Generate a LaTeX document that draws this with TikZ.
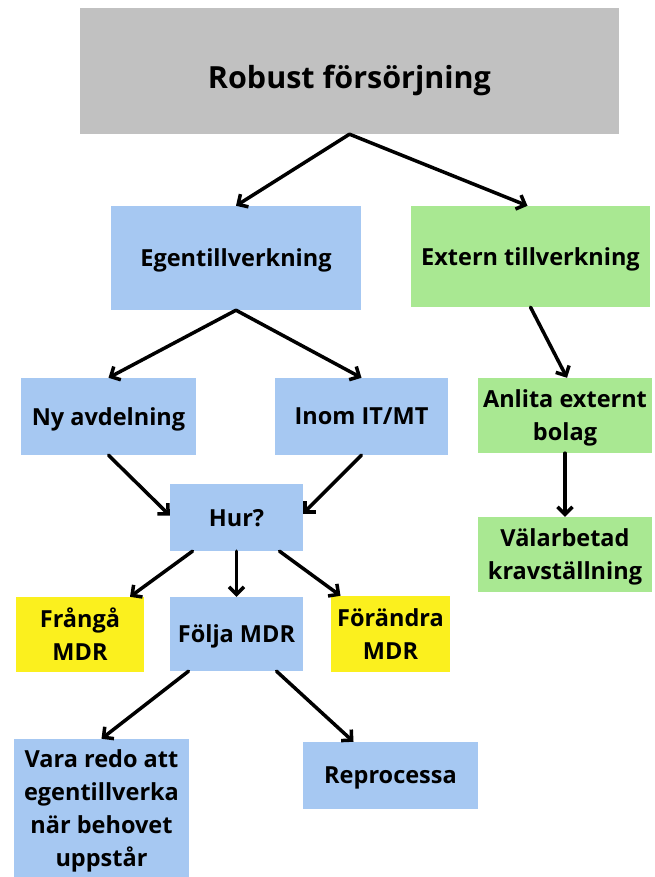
\documentclass[tikz,border=0pt]{standalone}
\usepackage{fontspec}
\setmainfont{Open Sans}[BoldFont={* Bold}]
\usetikzlibrary{arrows.meta,calc}
\definecolor{cgray}{HTML}{C1C1C1}
\definecolor{cblue}{HTML}{A6C8F2}
\definecolor{cgreen}{HTML}{A9E892}
\definecolor{cyellow}{HTML}{FBF01E}
\tikzset{
  box/.style={draw=none, inner sep=0pt, align=center, text depth=0pt,
    font=\fontsize{23.5}{33}\selectfont\bfseries},
  conn/.style={line width=3.5pt, line cap=round, line join=round,
    -{Straight Barb[length=7.5pt,width=15pt,line width=3.5pt]}},
}
\newcommand{\bx}[8]{% name, color, x1, y1, x2, y2, options, text
  \node[box, fill=#2, minimum width=#5pt-#3pt, minimum height=#6pt-#4pt, #7] (#1) at ({(#3+#5)/2*1pt},{-(#4+#6)/2*1pt}) {#8};}
\begin{document}
\begin{tikzpicture}
\useasboundingbox (0,0) rectangle (654pt,-877pt);
\bx{root}{cgray}{80}{8}{619}{134}{font=\fontsize{30.5}{36}\selectfont\bfseries, text height=36pt}{Robust försörjning}
\bx{ego}{cblue}{111}{206}{361}{310}{}{Egentillverkning}
\bx{ext}{cgreen}{411}{206}{650}{307}{}{Extern tillverkning}
\bx{ny}{cblue}{21}{378}{196}{455}{}{Ny avdelning}
\bx{inom}{cblue}{275}{378}{448}{455}{}{Inom IT/MT}
\bx{anl}{cgreen}{478}{378}{652}{453}{}{Anlita externt\\bolag}
\bx{hur}{cblue}{170}{484}{303}{551}{}{Hur?}
\bx{val}{cgreen}{478}{517}{652}{592}{}{Välarbetad\\kravställning}
\bx{fra}{cyellow}{16}{597}{144}{672}{}{Frångå\\MDR}
\bx{fol}{cblue}{170}{597}{303}{671}{}{Följa MDR}
\bx{for}{cyellow}{331}{596}{450}{672}{}{Förändra\\MDR}
\bx{vara}{cblue}{14}{739}{189}{877}{}{Vara redo att\\egentillverka\\när behovet\\uppstår}
\bx{rep}{cblue}{303}{742}{478}{809}{}{Reprocessa}

\draw[conn] (root.south) -- (ego.north);
\draw[conn] (root.south) -- ($(ext.north)+(-3pt,0)$);
\draw[conn] (ego.south) -- (ny.north);
\draw[conn] (ego.south) -- (inom.north);
\draw[conn] (ext.south) -- ($(anl.north)+(2pt,0)$);
\draw[conn] (anl.south) -- (val.north);
\draw[conn] (ny.south) -- ($(hur.west)+(0,2pt)$);
\draw[conn] (inom.south) -- ($(hur.east)+(0,4pt)$);
\draw[conn] ($(hur.south)+(-44pt,0)$) -- ($(fra.north)+(50pt,0)$);
\draw[conn] (hur.south) -- (fol.north);
\draw[conn] ($(hur.south)+(43pt,0)$) -- ($(for.north)+(-50pt,0)$);
\draw[conn] ($(fol.south)+(-48pt,0)$) -- (vara.north);
\draw[conn] ($(fol.south)+(40pt,0)$) -- ($(rep.north)+(-37pt,0)$);
\end{tikzpicture}
\end{document}
